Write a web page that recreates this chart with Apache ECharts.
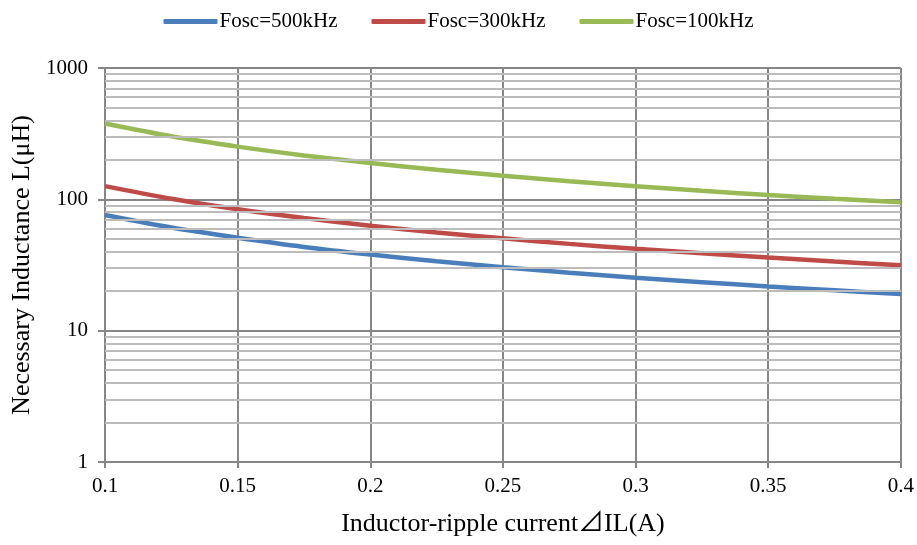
<!DOCTYPE html>
<html>
<head>
<meta charset="utf-8">
<script src="https://cdn.jsdelivr.net/npm/echarts@6/dist/echarts.min.js"></script>
<style>
  html, body { margin: 0; padding: 0; background: #fff; }
  #chart { width: 917px; height: 545px; }
</style>
</head>
<body>
<div id="chart"></div>
<script>
// Ripple current (A) sampled along the x axis
var rippleCurrent = [0.1, 0.125, 0.15, 0.175, 0.2, 0.225, 0.25, 0.275, 0.3, 0.325, 0.35, 0.375, 0.4];
// Required inductance (uH) for each oscillator frequency
var L500k = [76, 61, 51, 43.4, 38, 33.8, 30.4, 27.6, 25.3, 23.4, 21.7, 20.3, 19];
var L300k = [126, 101, 84, 72, 63, 56, 50.5, 45.8, 42, 38.8, 36, 33.6, 31.5];
var L100k = [378, 302, 252, 216, 189, 168, 151, 137.5, 126, 116, 108, 101, 95];
var seriesNames = ['Fosc=500kHz', 'Fosc=300kHz', 'Fosc=100kHz'];
// Minor gridline levels on the log axis
var minorLevels = [2, 3, 4, 5, 6, 7, 8, 9, 20, 30, 40, 50, 60, 70, 80, 90, 200, 300, 400, 500, 600, 700, 800, 900];

var colors = ['#4A7EBB', '#BE4B48', '#98B954'];
var font = '"Liberation Serif", "Times New Roman", "Noto Sans CJK JP", serif';

function pairs(xs, ys) {
  return xs.map(function (x, i) { return [x, ys[i]]; });
}

var chart = echarts.init(document.getElementById('chart'));
chart.setOption({
  animation: false,
  textStyle: { fontFamily: font },
  legend: {
    top: 6,
    left: 'center',
    itemWidth: 54,
    itemHeight: 5,
    itemGap: 34,
    icon: 'roundRect',
    textStyle: { fontFamily: font, fontSize: 21, color: '#000', padding: [0, 0, 0, -3] },
    data: seriesNames
  },
  grid: { left: 105, right: 16, top: 68, bottom: 83 },
  xAxis: {
    type: 'value',
    min: 0.1, max: 0.4, interval: 0.05,
    name: 'Inductor-ripple current\u22BFIL(A)',
    nameLocation: 'middle',
    nameGap: 49,
    nameTextStyle: { fontFamily: font, fontSize: 26, color: '#000' },
    axisLine: { lineStyle: { color: '#868686', width: 2 } },
    axisTick: { show: true, length: 6, lineStyle: { color: '#868686', width: 2 } },
    axisLabel: { fontFamily: font, fontSize: 21, color: '#000', margin: 14,
      formatter: function (v) { return String(+v.toFixed(2)); } },
    splitLine: { show: true, lineStyle: { color: '#868686', width: 2 } }
  },
  yAxis: {
    type: 'log',
    logBase: 10,
    min: 1, max: 1000,
    name: 'Necessary Inductance L(\u03BCH)',
    nameLocation: 'middle',
    nameGap: 70,
    nameTextStyle: { fontFamily: font, fontSize: 26, color: '#000' },
    axisLine: { show: true, lineStyle: { color: '#868686', width: 2 } },
    axisTick: { show: true, length: 7, lineStyle: { color: '#868686', width: 2 } },
    axisLabel: { fontFamily: font, fontSize: 21, color: '#000', margin: 17,
      formatter: function (v) { return String(Math.round(v)); } },
    splitLine: { show: true, lineStyle: { color: '#868686', width: 2 } }
  },
  series: [
    {
      name: 'minor',
      type: 'line',
      data: [],
      silent: true,
      z: 1,
      markLine: {
        silent: true,
        symbol: ['none', 'none'],
        label: { show: false },
        lineStyle: { color: '#bcbcbc', width: 2, type: 'solid' },
        data: minorLevels.map(function (v) { return { yAxis: v }; })
      }
    },
    {
      name: seriesNames[0], type: 'line', data: pairs(rippleCurrent, L500k),
      smooth: 0.3, showSymbol: false, z: 3,
      lineStyle: { color: colors[0], width: 4.5 }, itemStyle: { color: colors[0] }
    },
    {
      name: seriesNames[1], type: 'line', data: pairs(rippleCurrent, L300k),
      smooth: 0.3, showSymbol: false, z: 3,
      lineStyle: { color: colors[1], width: 4.5 }, itemStyle: { color: colors[1] }
    },
    {
      name: seriesNames[2], type: 'line', data: pairs(rippleCurrent, L100k),
      smooth: 0.3, showSymbol: false, z: 3,
      lineStyle: { color: colors[2], width: 4.5 }, itemStyle: { color: colors[2] }
    }
  ]
});
</script>
</body>
</html>
